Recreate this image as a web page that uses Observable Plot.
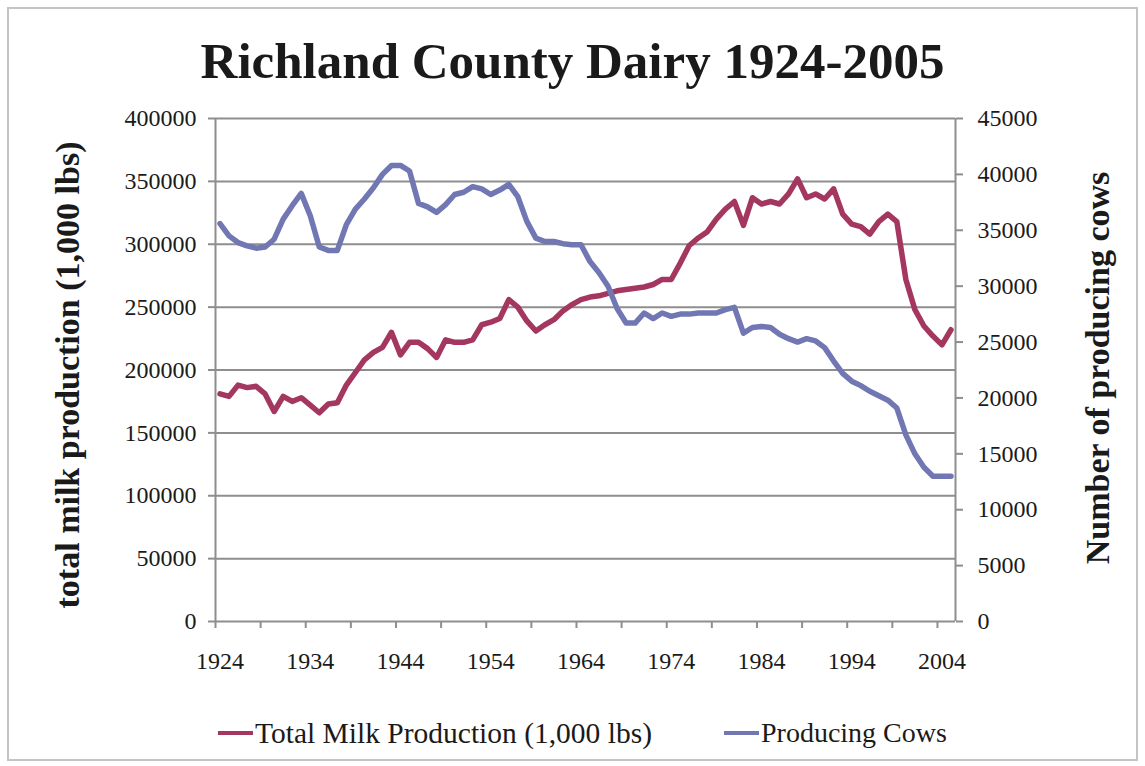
<!DOCTYPE html>
<html>
<head>
<meta charset="utf-8">
<script src="https://cdn.jsdelivr.net/npm/d3@7"></script>
<script src="https://cdn.jsdelivr.net/npm/@observablehq/plot@0.6"></script>
<style>
  html, body { margin: 0; padding: 0; background: white; }
  #wrap { position: relative; width: 1145px; height: 766px; background: white; overflow: hidden; font-family: "Liberation Serif", serif; color: #1a1a1a; }
  #frame { position: absolute; left: 7px; top: 7px; width: 1127px; height: 750px; border: 2px solid #c4c4c4; z-index: 5; pointer-events: none; }
  #title { position: absolute; left: 0; top: 36px; width: 1145px; text-align: center; font-weight: bold; font-size: 51px; line-height: 51px; white-space: nowrap; }
  #chart { position: absolute; left: 0; top: 100px; }
  .vtitle { position: absolute; font-weight: bold; font-size: 34px; line-height: 34px; white-space: nowrap; transform: translate(-50%, -50%) rotate(-90deg); }
  .leg { position: absolute; top: 733px; display: flex; align-items: center; transform: translateY(-50%); font-size: 28px; line-height: 28px; white-space: nowrap; }
  .sw { display: inline-block; width: 35px; height: 4px; margin-right: 2px; }
</style>
</head>
<body>
<div id="wrap">
  <div id="title">Richland County Dairy 1924-2005</div>
  <div id="chart"></div>
  <div class="vtitle" style="left:68px; top:375px;">total milk production (1,000 lbs)</div>
  <div class="vtitle" style="left:1098px; top:368px;">Number of producing cows</div>
  <div class="leg" style="left:218px;"><span class="sw" style="background:#a4375f"></span><span style="font-size:29.5px">Total Milk Production (1,000 lbs)</span></div>
  <div class="leg" style="left:724px;"><span class="sw" style="background:#7177b3"></span><span>Producing Cows</span></div>
  <div id="frame"></div>
</div>
<script>
const years = d3.range(1924, 2006);

const milk = [
  181000, 179000, 188000, 186000, 187000, 181000, 167000, 179000, 175000, 178000,
  172000, 166000, 173000, 174000, 188000, 198000, 208000, 214000, 218000, 230000,
  212000, 222000, 222000, 217000, 210000, 224000, 222000, 222000, 224000, 236000,
  238000, 241000, 256000, 250000, 239000, 231000, 236000, 240000, 247000, 252000,
  256000, 258000, 259000, 261000, 263000, 264000, 265000, 266000, 268000, 272000,
  272000, 285000, 299000, 305000, 310000, 320000, 328000, 334000, 315000, 337000,
  332000, 334000, 332000, 340000, 352000, 337000, 340000, 336000, 344000, 324000,
  316000, 314000, 308000, 318000, 324000, 318000, 272000, 248000, 235000, 227000,
  220000, 232000
];

const cows = [
  35600, 34500, 33900, 33600, 33400, 33500, 34200, 36000, 37200, 38300,
  36300, 33500, 33200, 33200, 35500, 36900, 37800, 38800, 40000, 40800,
  40800, 40300, 37400, 37100, 36600, 37300, 38200, 38400, 38900, 38700,
  38200, 38600, 39100, 38000, 35800, 34300, 34000, 34000, 33800, 33700,
  33700, 32200, 31200, 30000, 28000, 26700, 26700, 27600, 27100, 27600,
  27300, 27500, 27500, 27600, 27600, 27600, 27900, 28100, 25800, 26300,
  26400, 26300, 25700, 25300, 25000, 25300, 25100, 24500, 23300, 22200,
  21500, 21100, 20600, 20200, 19800, 19100, 16700, 15000, 13800, 13000,
  13000, 13000
];

const milkTicks = d3.range(0, 400001, 50000);
const cowTicks = d3.range(0, 45001, 5000);
const yearLabels = d3.range(1924, 2005, 10);
const yearTicks = d3.range(1923.5, 2004, 5);

const milkMax = 400000, cowMax = 45000;
const k = milkMax / cowMax;

const milkData = years.map((yr, i) => ({year: yr, value: milk[i]}));
const cowData = years.map((yr, i) => ({year: yr, value: cows[i] * k}));

const axisColor = "#8e8e8e";

const chart = Plot.plot({
  width: 1145,
  height: 600,
  marginTop: 18,
  marginBottom: 79,
  marginLeft: 215,
  marginRight: 190,
  x: {domain: [1923.5, 2005.5]},
  y: {domain: [0, milkMax]},
  style: {fontFamily: "'Liberation Serif', serif", fontSize: "24px", color: "#1a1a1a", background: "transparent", overflow: "visible"},
  marks: [
    Plot.ruleY(milkTicks, {stroke: axisColor, strokeWidth: 2}),
    Plot.ruleX([1923.5, 2005.5], {stroke: axisColor, strokeWidth: 2}),
    Plot.axisY({ticks: milkTicks, tickSize: 7, tickPadding: 12, tickFormat: d => String(d), stroke: axisColor, strokeWidth: 2, fill: "#1a1a1a", label: null}),
    Plot.axisY({anchor: "right", ticks: cowTicks.map(c => c * k), tickSize: 7, tickPadding: 15, tickFormat: d => String(Math.round(d / k)), stroke: axisColor, strokeWidth: 2, fill: "#1a1a1a", label: null}),
    Plot.axisX({ticks: yearTicks, tickSize: 7, tickFormat: () => "", stroke: axisColor, strokeWidth: 2, label: null}),
    Plot.axisX({ticks: yearLabels, tickSize: 0, tickPadding: 30, tickFormat: d => String(d), fill: "#1a1a1a", label: null}),
    Plot.lineY(milkData, {x: "year", y: "value", stroke: "#a4375f", strokeWidth: 5.5, strokeLinejoin: "round", strokeLinecap: "round"}),
    Plot.lineY(cowData, {x: "year", y: "value", stroke: "#7177b3", strokeWidth: 5.5, strokeLinejoin: "round", strokeLinecap: "round"})
  ]
});
document.getElementById("chart").appendChild(chart);
</script>
</body>
</html>
